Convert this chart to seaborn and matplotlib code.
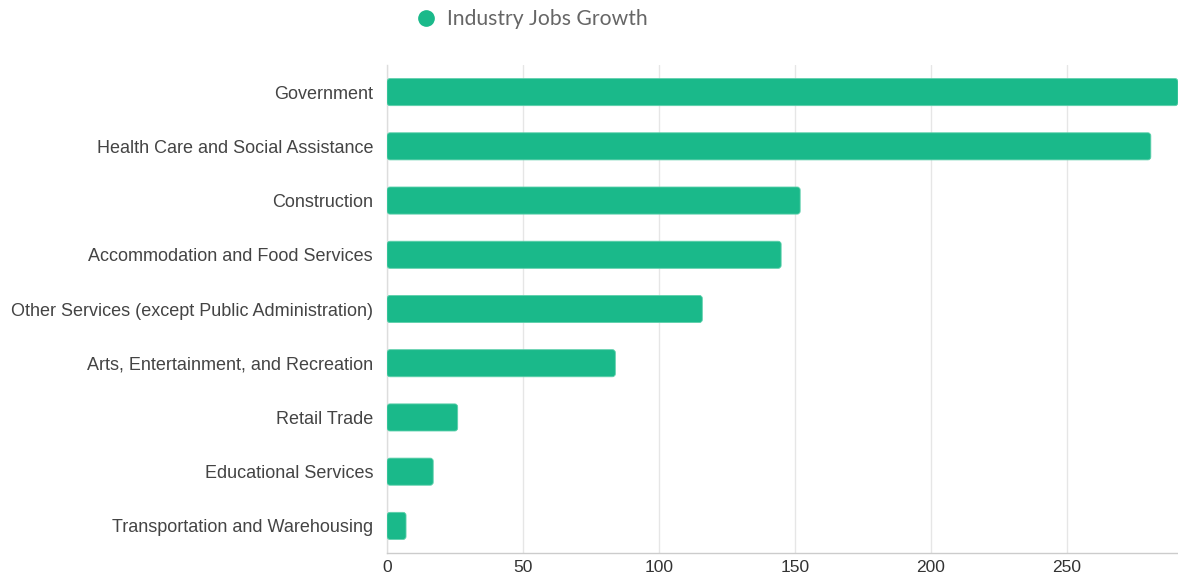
import matplotlib
matplotlib.use("Agg")
import matplotlib.pyplot as plt
from matplotlib.patches import FancyBboxPatch
from matplotlib.lines import Line2D
import seaborn as sns
import pandas as pd

industries = [
    "Government",
    "Health Care and Social Assistance",
    "Construction",
    "Accommodation and Food Services",
    "Other Services (except Public Administration)",
    "Arts, Entertainment, and Recreation",
    "Retail Trade",
    "Educational Services",
    "Transportation and Warehousing",
]
jobs_growth = [291, 281, 152, 145, 116, 84, 26, 17, 7]
x_ticks = [0, 50, 100, 150, 200, 250]
series_name = "Industry Jobs Growth"

BAR_COLOR = "#1ab98a"

df = pd.DataFrame({"industry": industries, "growth": jobs_growth})

sns.set_theme(style="white")
plt.rcParams["font.family"] = ["Liberation Sans", "DejaVu Sans"]

fig = plt.figure(figsize=(11.78, 5.8), dpi=100)
ax = fig.add_axes([387 / 1178, 1 - 553 / 580, 1 - 387 / 1178, (553 - 65) / 580])

sns.barplot(data=df, x="growth", y="industry", color=BAR_COLOR, width=0.5,
            saturation=1, ax=ax, zorder=3)

ax.set_xlim(0, 291)
ax.set_ylim(len(industries) - 0.5, -0.5)

# swap plain rectangles for slightly rounded ones
px_per_x = (1178 - 387) / 291
px_per_y = (553 - 65) / len(industries)
for bar in list(ax.patches):
    x0, y0 = bar.get_x(), bar.get_y()
    w, h = bar.get_width(), bar.get_height()
    rounded = FancyBboxPatch(
        (x0, y0), w, h,
        boxstyle=f"round,pad=0,rounding_size={3 / px_per_x}",
        mutation_aspect=px_per_x / px_per_y,
        facecolor=BAR_COLOR, edgecolor="#5fd0ac", linewidth=0.6,
        zorder=3, clip_on=True,
    )
    bar.remove()
    ax.add_patch(rounded)

ax.set_xticks(x_ticks)
ax.set_xticklabels([str(t) for t in x_ticks])
ax.grid(axis="x", color="#e6e6e6", linewidth=1, zorder=0)
ax.grid(axis="y", visible=False)

for side in ["top", "right"]:
    ax.spines[side].set_visible(False)
ax.spines["bottom"].set_color("#cccccc")
ax.spines["left"].set_color("#dddddd")
ax.spines["bottom"].set_linewidth(1)
ax.spines["left"].set_linewidth(1)

ax.tick_params(axis="y", length=0, pad=10, labelsize=13, labelcolor="#444444")
ax.tick_params(axis="x", length=0, pad=5, labelsize=12.5, labelcolor="#333333")
ax.set_xlabel("")
ax.set_ylabel("")

legend_handle = Line2D([0], [0], marker="o", linestyle="none", markersize=11,
                       markerfacecolor=BAR_COLOR, markeredgecolor=BAR_COLOR)
fig.legend([legend_handle], [series_name], loc="center left",
           bbox_to_anchor=(386 / 1178, 1 - 19 / 580), frameon=False,
           handletextpad=0.0, prop={"family": "Lato", "size": 15.2},
           labelcolor="#666666")

fig.savefig("out.png", dpi=100)
